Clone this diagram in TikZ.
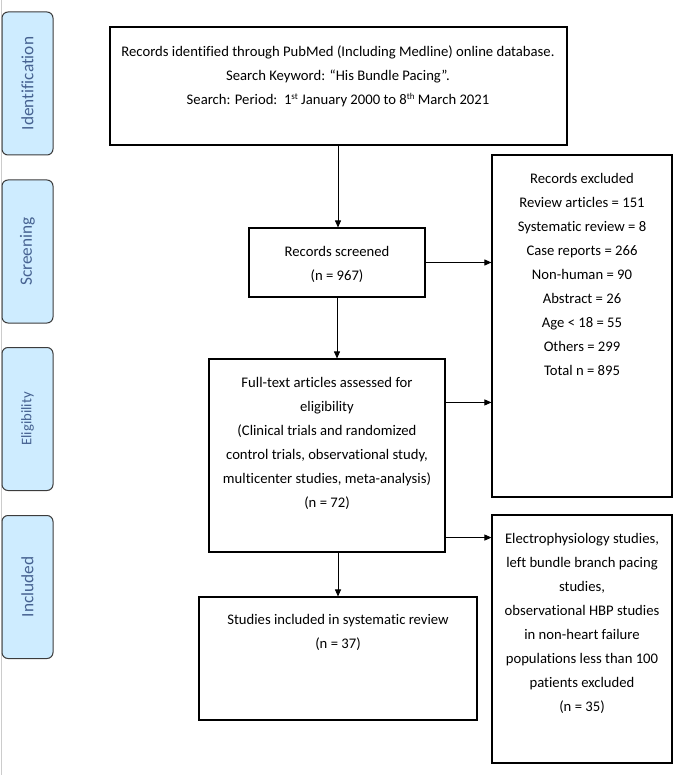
\documentclass[tikz,border=0pt]{standalone}
\usepackage{fontspec}
\setmainfont[Ligatures={NoCommon}]{Carlito}
\usetikzlibrary{arrows.meta}
\definecolor{tabfill}{RGB}{206,236,255}
\definecolor{tabdraw}{RGB}{60,60,60}
\definecolor{tabtext}{RGB}{70,98,145}
\newcommand{\supsc}[1]{\raisebox{5pt}{\fontsize{9}{9}\selectfont #1}}
\begin{document}
\begin{tikzpicture}[x=1pt,y=-1pt,
 box/.style={draw=black,line width=1.1pt,inner sep=0pt,fill=white},
 txt/.style={inner sep=0pt,anchor=north,align=center,font=\fontsize{14.67}{24}\selectfont},
 tab/.style={draw=tabdraw,fill=tabfill,rounded corners=6pt,line width=1pt,minimum width=51pt,minimum height=143pt,inner sep=0pt},
 tablabel/.style={rotate=90,text=tabtext,inner sep=0pt,font=\fontsize{17.3}{20}\selectfont},
 arr/.style={-{Triangle[length=7pt,width=6pt]},line width=0.9pt}]
\useasboundingbox (0,0) rectangle (687,775);
\draw[black!20,line width=1pt] (1,0) -- (1,775);

% phase tabs
\node[tab] (tid) at (27.5,83.5) {};
\node[tablabel] (lid) at (tid) {Identification};
\node[tab] (tsc) at (27.5,251.5) {};
\node[tablabel] (lsc) at (tsc) {Screening};
\node[tab] (tel) at (27.5,419) {};
\node[tablabel,font=\fontsize{14.67}{18}\selectfont] (lel) at (tel) {Eligibility};
\node[tab] (tin) at (27.5,587) {};
\node[tablabel] (lin) at (tin) {Included};

% boxes
\node[box,minimum width=457pt,minimum height=118pt] (top) at (338.5,86) {};
\node[box,minimum width=176pt,minimum height=69pt] (scr) at (337,262.5) {};
\node[box,minimum width=180pt,minimum height=342pt] (exc) at (582,326) {};
\node[box,minimum width=236pt,minimum height=193pt] (ful) at (327,455.5) {};
\node[box,minimum width=180pt,minimum height=248pt] (exc2) at (582,639) {};
\node[box,minimum width=278pt,minimum height=123pt] (inc) at (338,658.5) {};

% texts
\node[txt] (ttop) at (338,39.2) {\strut Records identified through PubMed (Including Medline) online database.\\
Search Keyword: “His Bundle Pacing”.\\
Search: Period:\ \ 1\supsc{st} January 2000 to 8\supsc{th} March 2021};
\node[txt] (tscr) at (337,239.2) {\strut Records screened\\(n = 967)};
\node[txt] (texc) at (582,166) {\strut Records excluded\\Review articles = 151\\Systematic review = 8\\Case reports = 266\\Non-human = 90\\Abstract = 26\\Age < 18 = 55\\Others = 299\\Total n = 895};
\node[txt] (tful) at (327,370) {\strut Full-text articles assessed for\\eligibility\\(Clinical trials and randomized\\control trials, observational study,\\multicenter studies, meta-analysis)\\(n = 72)};
\node[txt] (texc2) at (582,526) {\strut Electrophysiology studies,\\left bundle branch pacing\\studies,\\observational HBP studies\\in non-heart failure\\populations less than 100\\patients excluded\\(n = 35)};
\node[txt] (tinc) at (338,607) {\strut Studies included in systematic review\\(n = 37)};

% connectors
\coordinate (a1) at (top.south -| 338,0);
\draw[arr] (a1) -- (a1 |- scr.north);
\draw[arr] (scr.east) -- (scr.east -| exc.west);
\draw[arr] (scr.south) -- (scr.south |- ful.north);
\coordinate (b1) at ([yshift=-44pt]ful.north east);
\draw[arr] (b1) -- (b1 -| exc.west);
\coordinate (b2) at ([yshift=15pt]ful.south east);
\draw[arr] (b2) -- (b2 -| exc2.west);
\draw[arr] (ful.south -| inc.north) -- (inc.north);
\end{tikzpicture}
\end{document}
